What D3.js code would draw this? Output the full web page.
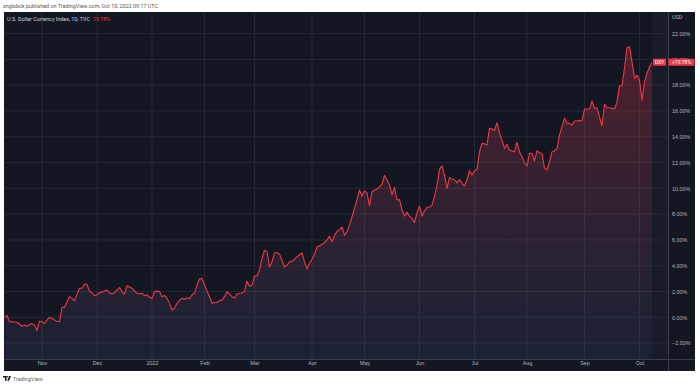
<!DOCTYPE html>
<html>
<head>
<meta charset="utf-8">
<script src="https://cdn.jsdelivr.net/npm/d3@7"></script>
<style>
  html, body { margin: 0; padding: 0; background: #fff; }
  svg { display: block; font-family: Roboto, "Open Sans", sans-serif; }
</style>
</head>
<body>
<div id="chart"></div>
<script>
// chart data
const publishedText = 'snglsbck published on TradingView.com, Oct 10, 2022 09:17 UTC';
const titleText = 'U.S. Dollar Currency Index, 1D, TVC';
const symbol = 'DXY';
const lastChange = 19.78;
const firstDay = '2021-10-11';
const lastDay = '2022-10-10';
const skippedDays = ['2021-12-24'];
const monthLabels = ['Nov', 'Dec', '2022', 'Feb', 'Mar', 'Apr', 'May', 'Jun', 'Jul', 'Aug', 'Sep', 'Oct'];
const yTicks = [-2, 0, 2, 4, 6, 8, 10, 12, 14, 16, 18, 20, 22];
// % change from first bar, one per trading day
const pctValues = [
  0.00, 0.15, -0.34, -0.35, -0.36, -0.40, -0.52, -0.70, -0.60, -0.72,
  -0.55, -0.50, -0.62, -1.04, -0.30, -0.35, -0.48, -0.22, 0.00, -0.10,
  -0.20, -0.33, -0.33, 0.75, 0.80, 1.20, 1.60, 1.47, 1.27, 1.80,
  2.25, 2.25, 2.58, 2.55, 2.00, 1.90, 1.67, 1.75, 1.90, 1.95,
  2.05, 2.10, 1.90, 1.80, 1.90, 2.10, 2.30, 2.00, 1.80, 2.45,
  2.35, 2.25, 2.05, 1.86, 1.80, 1.86, 1.68, 1.75, 1.55, 1.47,
  2.00, 2.03, 2.00, 1.60, 1.70, 1.47, 1.08, 0.57, 0.70, 1.08,
  1.30, 1.47, 1.40, 1.50, 1.47, 1.73, 1.86, 2.50, 3.00, 3.00,
  2.50, 2.03, 1.60, 1.08, 1.15, 1.15, 1.30, 1.33, 1.60, 2.00,
  1.80, 1.60, 1.50, 1.80, 1.86, 1.86, 2.03, 2.80, 2.40, 2.50,
  3.20, 3.20, 3.67, 4.57, 5.20, 5.10, 3.90, 4.30, 5.00, 5.00,
  4.90, 4.40, 3.90, 4.05, 4.30, 4.35, 4.50, 4.70, 4.85, 5.00,
  4.30, 3.75, 4.20, 4.50, 4.90, 5.43, 5.55, 5.65, 5.80, 6.00,
  6.30, 5.86, 6.35, 6.64, 6.80, 7.00, 6.35, 6.64, 7.15, 7.80,
  8.45, 9.10, 9.87, 9.40, 9.80, 9.65, 8.63, 9.75, 9.85, 9.95,
  10.13, 10.30, 11.00, 10.64, 10.26, 9.50, 10.08, 9.10, 9.13, 8.32,
  7.85, 8.14, 7.85, 7.67, 7.36, 8.10, 8.63, 7.85, 8.24, 8.53,
  8.53, 8.70, 9.35, 10.26, 11.47, 11.75, 11.03, 10.00, 10.85, 10.70,
  10.67, 10.43, 10.67, 10.39, 10.18, 10.67, 11.37, 11.03, 11.37, 11.47,
  12.84, 13.49, 13.45, 13.36, 14.65, 14.60, 14.47, 15.09, 14.26, 13.74,
  13.10, 13.41, 12.97, 12.90, 12.84, 13.57, 12.84, 12.45, 12.00, 11.73,
  12.71, 12.71, 12.12, 12.92, 12.76, 12.70, 11.55, 11.42, 12.06, 12.84,
  12.90, 13.10, 14.13, 14.78, 15.43, 15.04, 15.04, 14.90, 15.22, 15.22,
  15.25, 15.24, 16.15, 16.15, 16.15, 16.79, 16.20, 16.25, 15.55, 14.85,
  16.51, 16.25, 16.25, 16.20, 16.15, 16.71, 17.95, 17.97, 19.30, 20.90,
  20.98, 19.81, 18.53, 18.78, 18.40, 16.84, 18.26, 18.91, 19.43, 19.78
];

const width = 700, height = 387;
const panel = { left: 4, top: 12, right: 695, bottom: 371 };
const plot = { left: 4, top: 12, right: 668, bottom: 359 };
const red = '#f23645';
const axisText = '#b2b5be';
const gridColor = '#242834';
const fontSize = 5.4;

const fmtDay = d3.timeFormat('%Y-%m-%d');
const parseDay = d3.timeParse('%Y-%m-%d');
const dates = d3.timeDay.range(parseDay(firstDay), d3.timeDay.offset(parseDay(lastDay), 1))
  .filter(d => d.getDay() % 6 !== 0 && !skippedDays.includes(fmtDay(d)));
const data = dates.map((d, i) => ({ date: d, i: i, v: pctValues[i] }));

const x = d3.scaleLinear().domain([0, data.length - 1]).range([4.5, 652]);
const y = d3.scaleLinear().domain([0, 22]).range([317.3, 33.6]);

// first bar of every month after the first one
const monthStarts = data.filter((d, i) => i > 0 && d.date.getMonth() !== data[i - 1].date.getMonth());

const svg = d3.select('#chart').append('svg')
  .attr('width', width).attr('height', height);

svg.append('text')
  .attr('x', 3).attr('y', 7.5)
  .attr('font-size', fontSize).attr('fill', '#555')
  .text(publishedText);

svg.append('rect')
  .attr('x', panel.left).attr('y', panel.top)
  .attr('width', panel.right - panel.left).attr('height', panel.bottom - panel.top)
  .attr('fill', '#131722');

// slightly lighter band after the last bar
svg.append('rect')
  .attr('x', x(data.length - 1)).attr('y', plot.top)
  .attr('width', plot.right - x(data.length - 1)).attr('height', plot.bottom - plot.top)
  .attr('fill', '#181c28');

const grid = svg.append('g');
grid.selectAll('.hgrid').data(yTicks).enter().append('line')
  .attr('x1', plot.left).attr('x2', plot.right)
  .attr('y1', d => y(d)).attr('y2', d => y(d))
  .attr('stroke', gridColor).attr('stroke-width', 1);
grid.selectAll('.vgrid').data(monthStarts).enter().append('line')
  .attr('x1', d => x(d.i)).attr('x2', d => x(d.i))
  .attr('y1', plot.top).attr('y2', plot.bottom)
  .attr('stroke', gridColor).attr('stroke-width', 1);

const defs = svg.append('defs');
const grad = defs.append('linearGradient')
  .attr('id', 'areaGrad').attr('gradientUnits', 'userSpaceOnUse')
  .attr('x1', 0).attr('x2', 0).attr('y1', y(21)).attr('y2', plot.bottom);
grad.append('stop').attr('offset', 0).attr('stop-color', red).attr('stop-opacity', 0.28);
grad.append('stop').attr('offset', 1).attr('stop-color', '#3f5080').attr('stop-opacity', 0.18);

svg.append('path')
  .datum(data)
  .attr('fill', 'url(#areaGrad)')
  .attr('d', d3.area().x(d => x(d.i)).y0(plot.bottom).y1(d => y(d.v)));

svg.append('path')
  .datum(data)
  .attr('fill', 'none')
  .attr('stroke', red)
  .attr('stroke-width', 1.1)
  .attr('stroke-linejoin', 'round')
  .attr('d', d3.line().x(d => x(d.i)).y(d => y(d.v)));

// axis separators
svg.append('line')
  .attr('x1', plot.right + 0.5).attr('x2', plot.right + 0.5)
  .attr('y1', panel.top).attr('y2', panel.bottom)
  .attr('stroke', '#3b3f4a');
svg.append('line')
  .attr('x1', panel.left).attr('x2', panel.right)
  .attr('y1', plot.bottom + 0.5).attr('y2', plot.bottom + 0.5)
  .attr('stroke', '#3b3f4a');

// price axis (20.00% sits under the last value badge, as in TradingView)
const yAxis = svg.append('g')
  .attr('transform', `translate(${plot.right + 4},0)`)
  .call(d3.axisRight(y).tickValues(yTicks).tickSize(0).tickPadding(0)
    .tickFormat(d => d3.format('.2f')(d) + '%'));
yAxis.select('.domain').remove();
yAxis.selectAll('text')
  .attr('font-size', fontSize).attr('font-family', null).attr('fill', axisText);

svg.append('text')
  .attr('x', plot.right + 4).attr('y', 19)
  .attr('font-size', fontSize).attr('fill', axisText)
  .text('USD');

// time axis
const xAxis = svg.append('g')
  .attr('transform', `translate(0,${plot.bottom + 2.5})`)
  .call(d3.axisBottom(x).tickValues(monthStarts.map(d => d.i)).tickSize(0).tickPadding(0)
    .tickFormat((d, k) => monthLabels[k]));
xAxis.select('.domain').remove();
xAxis.selectAll('text')
  .attr('font-size', fontSize).attr('font-family', null).attr('fill', axisText);

// legend text in the panel
const legend = svg.append('text')
  .attr('x', 7).attr('y', 21)
  .attr('font-size', fontSize).attr('fill', '#d1d4dc');
legend.append('tspan').text(titleText);
legend.append('tspan').attr('dx', 3).attr('fill', red).text(d3.format('.2f')(lastChange) + '%');

// last value badges
const lastY = y(lastChange);
const badges = svg.append('g');
badges.append('rect')
  .attr('x', x(data.length - 1) + 1).attr('y', lastY - 3.5)
  .attr('width', 13).attr('height', 7).attr('fill', red);
badges.append('text')
  .attr('x', x(data.length - 1) + 7.5).attr('y', lastY + 1.9)
  .attr('text-anchor', 'middle').attr('font-size', fontSize - 0.4).attr('fill', '#fff')
  .text(symbol);
badges.append('rect')
  .attr('x', plot.right + 0.5).attr('y', lastY - 3.5)
  .attr('width', 26).attr('height', 7).attr('fill', red);
badges.append('text')
  .attr('x', plot.right + 4).attr('y', lastY + 1.9)
  .attr('font-size', fontSize - 0.4).attr('fill', '#fff')
  .text('+' + d3.format('.2f')(lastChange) + '%');

// footer logo
const logo = svg.append('g').attr('transform', 'translate(3,376)');
logo.append('path').attr('d', 'M0,0 H3.6 V4.8 H2 V1.6 H0 Z').attr('fill', '#131722');
logo.append('circle').attr('cx', 4.6).attr('cy', 0.8).attr('r', 0.8).attr('fill', '#131722');
logo.append('path').attr('d', 'M6.2,0 H8 L6,4.8 H4.2 Z').attr('fill', '#131722');
svg.append('text')
  .attr('x', 13).attr('y', 381)
  .attr('font-size', fontSize).attr('fill', '#666')
  .text('TradingView');
</script>
</body>
</html>
